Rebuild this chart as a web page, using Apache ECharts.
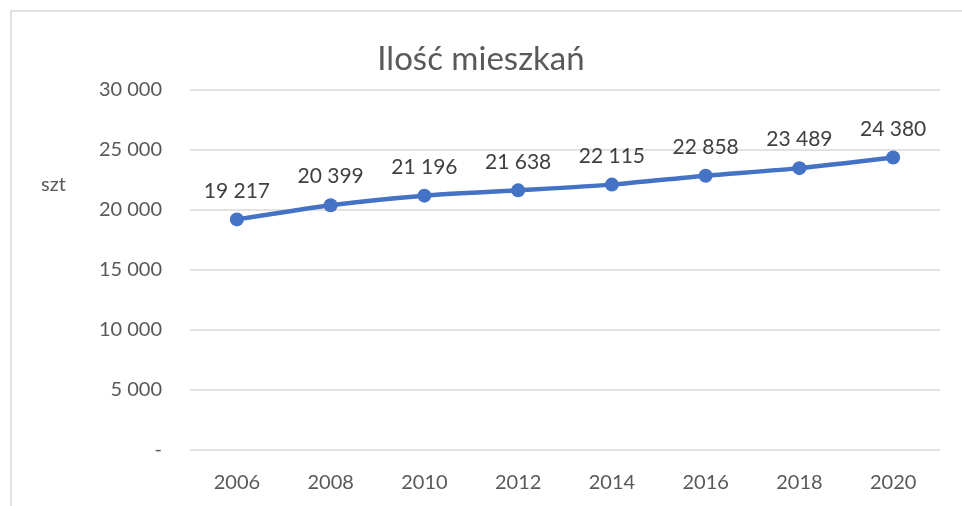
<!DOCTYPE html>
<html>
<head>
<meta charset="utf-8">
<script src="https://cdn.jsdelivr.net/npm/echarts@6/dist/echarts.min.js"></script>
<style>
  html, body { margin: 0; padding: 0; background: #fff; }
  #chart { width: 962px; height: 506px; }
</style>
</head>
<body>
<div id="chart"></div>
<script>
var years = ['2006', '2008', '2010', '2012', '2014', '2016', '2018', '2020'];
var flats = [19217, 20399, 21196, 21638, 22115, 22858, 23489, 24380];

function fmt(v) {
    if (v === 0) return '-';
    return String(v).replace(/\B(?=(\d{3})+(?!\d))/g, ' ');
}

var myChart = echarts.init(document.getElementById('chart'));
myChart.setOption({
    textStyle: { fontFamily: 'Lato' },
    title: {
        text: 'Ilość mieszkań',
        left: 'center',
        top: 38,
        textStyle: { fontFamily: 'Lato', fontSize: 33, fontWeight: 'normal', color: '#595959' }
    },
    graphic: [
        {
            type: 'rect',
            shape: { x: 11, y: 11, width: 1000, height: 600 },
            style: { fill: 'none', stroke: '#d9d9d9', lineWidth: 1.5 }
        },
        {
            type: 'text',
            left: 41,
            top: 175,
            style: { text: 'szt', fontFamily: 'Lato', fontSize: 20, fill: '#595959' }
        }
    ],
    grid: { left: 190, right: 22, top: 90, bottom: 56 },
    xAxis: {
        type: 'category',
        data: years,
        axisLine: { show: false },
        axisTick: { show: false },
        axisLabel: { color: '#595959', fontSize: 20, margin: 23 }
    },
    yAxis: {
        type: 'value',
        min: 0,
        max: 30000,
        interval: 5000,
        axisLine: { show: false },
        axisTick: { show: false },
        axisLabel: { color: '#595959', fontSize: 20, margin: 28, formatter: fmt },
        splitLine: { lineStyle: { color: '#d9d9d9', width: 1.5 } }
    },
    series: [{
        type: 'line',
        data: flats,
        smooth: 0.2,
        symbol: 'circle',
        symbolSize: 14,
        lineStyle: { color: '#4472c4', width: 4.5 },
        itemStyle: { color: '#4472c4' },
        label: {
            show: true,
            position: 'top',
            distance: 11,
            color: '#404040',
            fontSize: 21,
            formatter: function (p) { return fmt(p.value); }
        }
    }]
});
</script>
</body>
</html>
